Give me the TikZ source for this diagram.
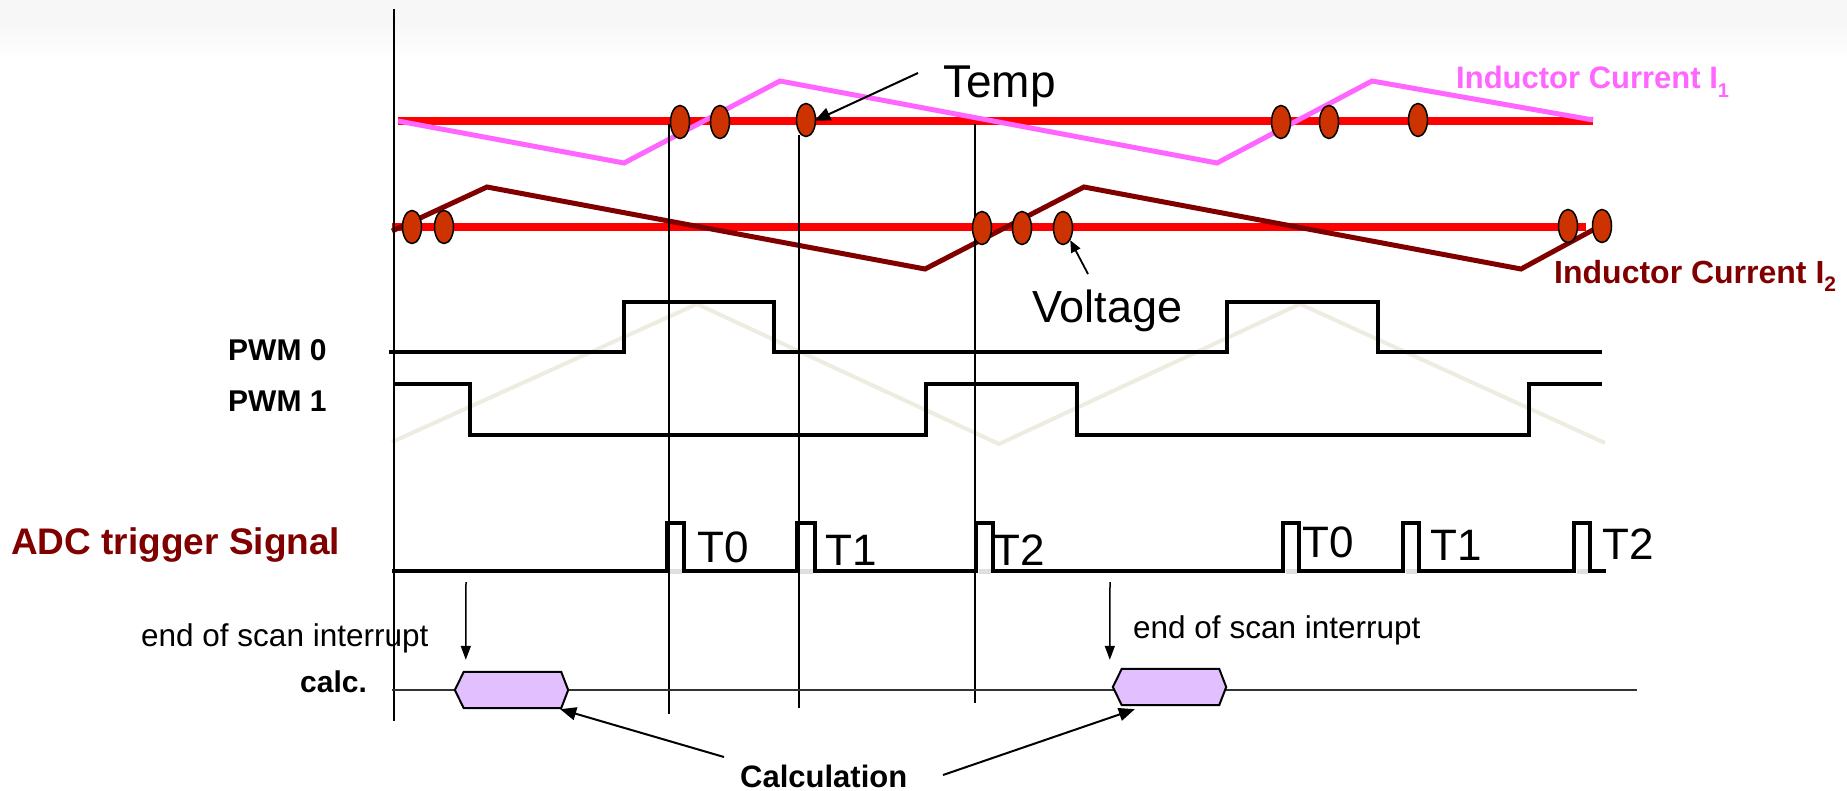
\documentclass[tikz,border=0pt]{standalone}
\usepackage{fontspec}
\setmainfont{Liberation Sans}
\usetikzlibrary{arrows.meta,shapes.geometric,calc}
\definecolor{pinkc}{RGB}{255,102,255}
\definecolor{brownc}{RGB}{128,0,0}
\definecolor{dotc}{RGB}{204,51,0}
\definecolor{calcc}{RGB}{226,192,255}
\definecolor{carrierc}{RGB}{238,235,224}
\definecolor{bandc}{RGB}{247,247,247}
\newcommand\fsz[1]{\fontsize{#1}{#1}\selectfont}
\begin{document}
\begin{tikzpicture}[x=1pt,y=-1pt,
  dot/.style={ellipse, draw=black, line width=1.5pt, fill=dotc, minimum width=19pt, minimum height=33pt, inner sep=0pt},
  refline/.style={red, line width=8pt},
  sig/.style={line width=4.5pt, line join=miter},
  vline/.style={line width=1.6pt},
  txt/.style={inner sep=0pt, anchor=base west},
  calcbox/.style={minimum width=113pt, minimum height=36pt, inner sep=0pt},
  hexa/.style={draw=black, line width=2pt, fill=calcc, line join=miter},
  arr/.style={-{Triangle[length=16pt,width=13pt]}, line width=2pt},
  sarr/.style={-{Triangle[length=14pt,width=10pt]}, line width=1.5pt},
  gapc/.style={fill=gray!25}
]
\useasboundingbox (0,0) rectangle (1847,790);
\fill[bandc] (0,0) rectangle (1847,25);
\shade[top color=bandc, bottom color=white] (0,25) rectangle (1847,60);

% carrier triangle
\draw[carrierc, line width=4pt] (392,442) -- (697,304) -- (999,444) -- (1300,304) -- (1605,443);

% reference lines
\draw[refline] (398,121) -- (1593,121);
\draw[refline] (392,227) -- (1586,227);
% inductor currents
\draw[pinkc, line width=5pt, line join=miter] (398,121) -- (624,163) -- (780,81) -- (1217,163) -- (1372,81) -- (1593,120);
\draw[brownc, line width=5pt, line join=miter] (392,231) -- (487,187) -- (925,269) -- (1084,187) -- (1521,269) -- (1602,225);

% vertical lines
\draw[vline] (394,9) -- (394,721);
\draw[vline] (669,124) -- (669,714);
\draw[vline] (799,135) -- (799,708);
\draw[vline] (975,124) -- (975,703);

% sample points
\node[dot] (t1) at (680,122) {};
\node[dot] (t2) at (720,122) {};
\node[dot] (t3) at (806,120) {};
\node[dot] (t4) at (1281,122) {};
\node[dot] (t5) at (1329,122) {};
\node[dot] (t6) at (1418,120) {};
\node[dot] (b1) at (412,227) {};
\node[dot] (b2) at (444,227) {};
\node[dot] (b3) at (982,228) {};
\node[dot] (b4) at (1022,228) {};
\node[dot] (b5) at (1063,228) {};
\node[dot] (b6) at (1568,226) {};
\node[dot] (b7) at (1602,226) {};

% labels top
\node[txt] (temp) at (943,97) {\fsz{46}Temp};
\coordinate (tempfrom) at (918,73);
\draw[arr] (tempfrom) -- (t3.east) [shorten >=-2pt];
\node[txt] (volt) at (1032,322) {\fsz{45}Voltage};
\coordinate (voltfrom) at (1088,274);
\draw[-{Triangle[length=12pt,width=10pt]}, line width=1.8pt] (voltfrom) -- (b5.south east);
\node[txt, text=pinkc] (i1) at (1456,88) {\fsz{31}\bfseries Inductor Current I\raisebox{-9pt}{\fsz{20}1}};
\node[txt, text=brownc] (i2) at (1554,283) {\fsz{32}\bfseries Inductor Current I\raisebox{-8pt}{\fsz{21}2}};

% PWM
\node[txt] (p0) at (228,360) {\fsz{30}\bfseries PWM 0};
\node[txt] (p1) at (228,411) {\fsz{30}\bfseries PWM 1};
\draw[sig] (389,352) -- (624,352) -- (624,302) -- (774,302) -- (774,352) -- (1227,352) -- (1227,302) -- (1378,302) -- (1378,352) -- (1602,352);
\draw[sig] (395,384) -- (470,384) -- (470,435) -- (926,435) -- (926,384) -- (1077,384) -- (1077,435) -- (1529,435) -- (1529,384) -- (1602,384);

% ADC trigger
\node[txt, text=brownc] (adc) at (11,554) {\fsz{37}\bfseries ADC trigger Signal};
\draw[line width=4pt, line join=miter] (392,571) -- (667,571) -- (667,523) -- (684,523) -- (684,571)
  -- (797,571) -- (797,523) -- (815,523) -- (815,571)
  -- (976,571) -- (976,523) -- (993,523) -- (993,571)
  -- (1283,571) -- (1283,523) -- (1299,523) -- (1299,571)
  -- (1403,571) -- (1403,523) -- (1419,523) -- (1419,571)
  -- (1574,571) -- (1574,523) -- (1590,523) -- (1590,571) -- (1606,571);
\fill[gapc] (669.5,569) rectangle (681.5,573.5);
\fill[gapc] (799.5,569) rectangle (812.5,573.5);
\fill[gapc] (978.5,569) rectangle (990.5,573.5);
\fill[gapc] (1285.5,569) rectangle (1296.5,573.5);
\fill[gapc] (1405.5,569) rectangle (1416.5,573.5);
\fill[gapc] (1576.5,569) rectangle (1587.5,573.5);
\node[txt] (ta0) at (697,562) {\fsz{44}T0};
\node[txt] (ta1) at (825,565) {\fsz{44}T1};
\node[txt] (ta2) at (993,565) {\fsz{44}T2};
\node[txt] (tb0) at (1302,557) {\fsz{44}T0};
\node[txt] (tb1) at (1430,560) {\fsz{44}T1};
\node[txt] (tb2) at (1602,559) {\fsz{44}T2};

% calc line
\node[txt] (calc) at (300,692) {\fsz{30}\bfseries calc.};
\draw[black!80, line width=2.5pt] (392,690) -- (1637,690);
\node[calcbox] (c1) at (511.5,690) {};
\node[calcbox] (c2) at (1169.5,687) {};
\draw[hexa] (c1.west) -- ($(c1.north west)+(9,0)$) -- ($(c1.north east)+(-7,0)$) -- (c1.east) -- ($(c1.south east)+(-7,0)$) -- ($(c1.south west)+(9,0)$) -- cycle;
\draw[hexa] (c2.west) -- ($(c2.north west)+(9,0)$) -- ($(c2.north east)+(-7,0)$) -- (c2.east) -- ($(c2.south east)+(-7,0)$) -- ($(c2.south west)+(9,0)$) -- cycle;

% end of scan
\node[txt] (eos1) at (141,646) {\fsz{31.5}end of scan interrupt};
\node[txt] (eos2) at (1133,638) {\fsz{31.5}end of scan interrupt};
\coordinate (e1) at (466,582);
\coordinate (e2) at (1110,582);
\draw[sarr] (e1) -- ($(c1.north west)+(11,-12)$);
\draw[sarr] (e2) -- ($(c2.north west)+(-3,-9)$);

% Calculation
\node[txt] (calcu) at (740,787) {\fsz{31}\bfseries Calculation};
\coordinate (k1) at (724,757);
\coordinate (k2) at (943,775);
\draw[arr] (k1) -- ($(c1.south east)+(-8,1)$);
\draw[arr] (k2) -- ($(c2.south west)+(22,4)$);
\end{tikzpicture}
\end{document}
